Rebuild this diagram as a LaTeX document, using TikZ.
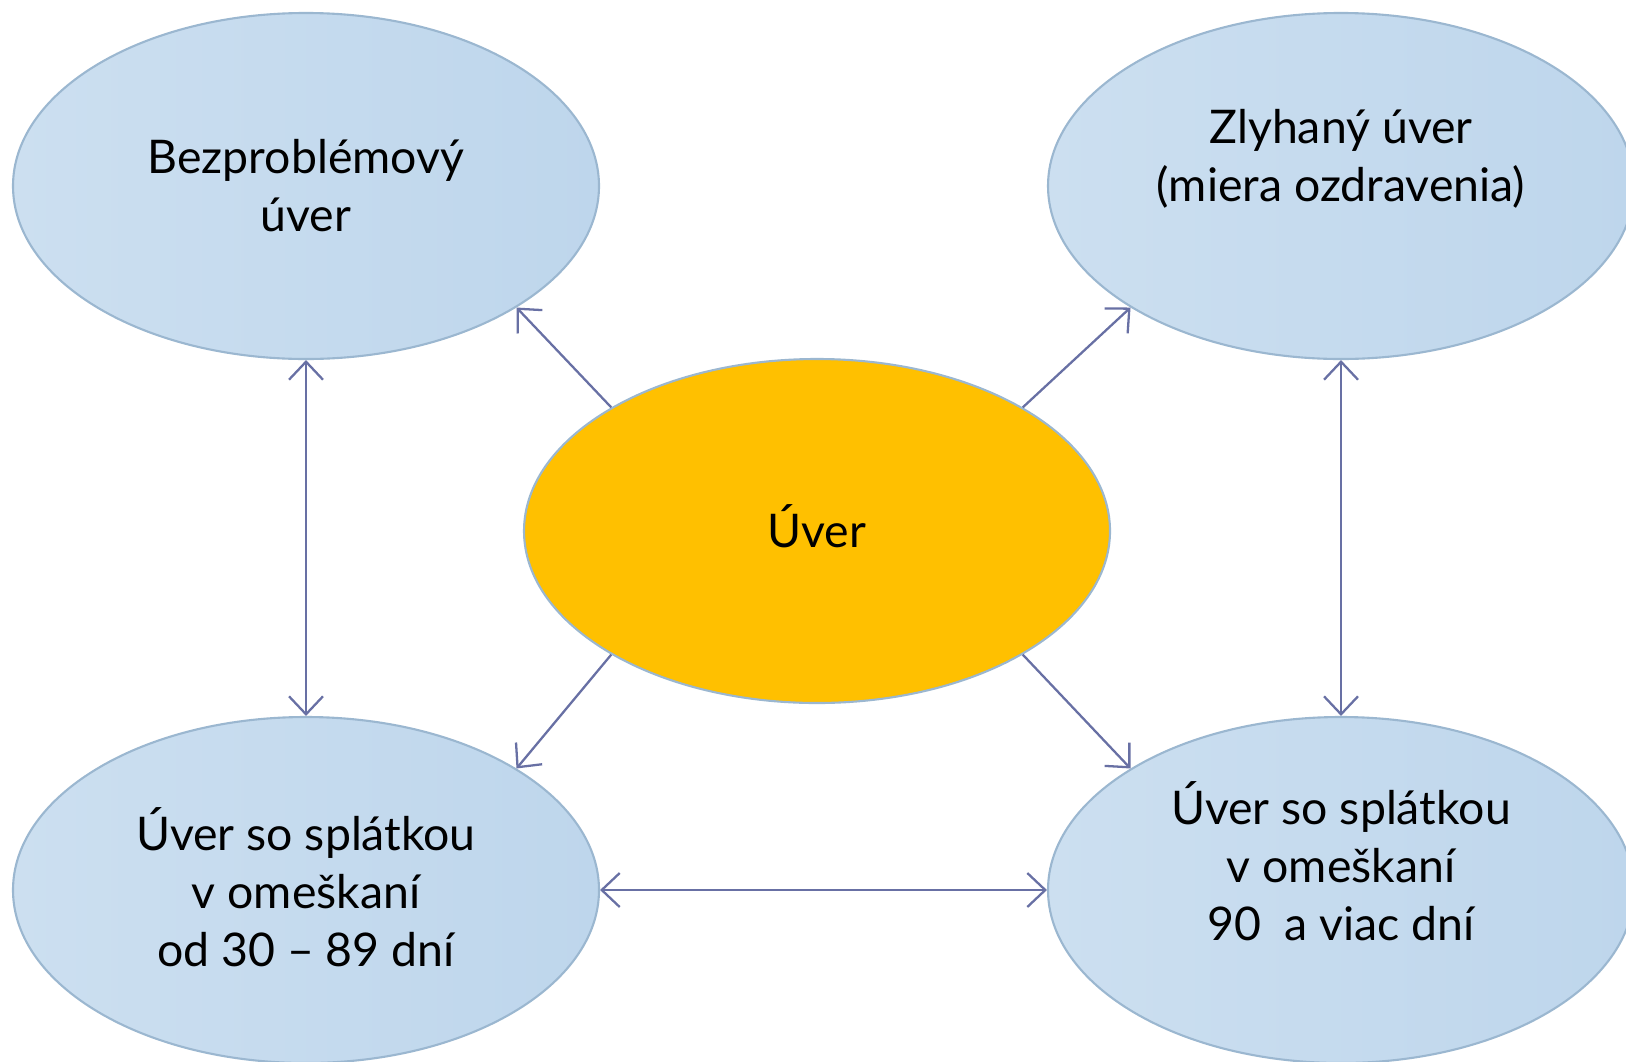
\documentclass[tikz,border=0pt]{standalone}
\usepackage{fontspec}
\setmainfont{Lato}
\usetikzlibrary{positioning,arrows.meta,shapes.geometric}
\definecolor{bubbleFill}{HTML}{BED6EC}
\definecolor{bubbleLight}{HTML}{CCDFF0}
\definecolor{bubbleLine}{HTML}{9BB7D0}
\definecolor{coreOrange}{HTML}{FFC000}
\definecolor{linkBlue}{HTML}{6870A4}

\begin{document}
\begin{tikzpicture}[
  font=\fontsize{13.2}{16.5}\selectfont,
  %% Node styles
  bubble/.style={
    ellipse, draw=bubbleLine, line width=0.6pt,
    left color=bubbleLight, right color=bubbleFill,
    minimum width=5.86cm, minimum height=3.46cm, inner sep=0pt
  },
  core/.style={
    ellipse, draw=bubbleLine, line width=0.6pt, fill=coreOrange,
    minimum width=5.86cm, minimum height=3.44cm, inner sep=0pt
  },
  txt/.style={align=center, inner sep=0pt},
  %% Arrow styles
  link/.style={-{Straight Barb[length=1.8mm, width=3.4mm]},
               line width=0.65pt, color=linkBlue},
  both/.style={{Straight Barb[length=1.8mm, width=3.4mm]}-{Straight Barb[length=1.8mm, width=3.4mm]},
               line width=0.65pt, color=linkBlue},
]
\useasboundingbox (0,0) rectangle (16.26,10.61);

%% ── Ellipses ───────────────────────────────────────────────────────────────
\node[core]   (uver) at (8.17,5.30) {};
\node[bubble] (tl)   at (3.06,8.75) {};
\node[bubble] (tr)   at (13.41,8.75) {};
\node[bubble] (bl)   at (3.06,1.71) {};
\node[bubble] (br)   at (13.41,1.71) {};

%% ── Texts ──────────────────────────────────────────────────────────────────
\node[txt] (uvertext) at ([yshift=0.5mm]uver.center) {Úver};
\node[txt] (tltext) at (tl.center) {Bezproblémový\\úver};
\node[txt] (trtext) at ([yshift=2.7mm]tr.center) {Zlyhaný úver\\(miera ozdravenia)};
\node[txt] (bltext) at ([yshift=0.3mm]bl.center) {Úver so splátkou\\v omeškaní\\od 30 – 89 dní};
\node[txt] (brtext) at ([yshift=2.9mm]br.center) {Úver so splátkou\\v omeškaní\\90~ a viac dní};

%% ── Arrows from the centre ─────────────────────────────────────────────────
\draw[link] (uver.149)  -- (tl.-30);
\draw[link] (uver.31)   -- (tr.-150);
\draw[link] (uver.-149) -- (bl.30);
\draw[link] (uver.-31)  -- (br.150);

%% ── Arrows between states ──────────────────────────────────────────────────
\draw[both] (tl.south) -- (bl.north);
\draw[both] (tr.south) -- (br.north);
\draw[both] (bl.east)  -- (br.west);

\end{tikzpicture}
\end{document}
